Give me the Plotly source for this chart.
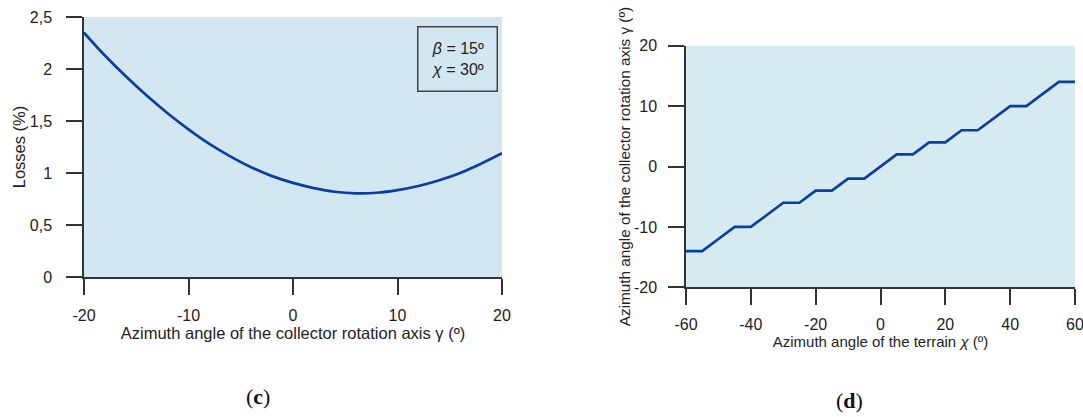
import plotly.graph_objects as go

# ---- data: panel (c) ----
gamma_c = [-20, -18, -16, -14, -12, -10, -8, -6, -4, -2, 0, 2, 4, 6, 8, 10, 12, 14, 16, 18, 20]
losses_c = [2.35, 2.13, 1.93, 1.745, 1.575, 1.42, 1.28, 1.16, 1.055, 0.97, 0.905,
            0.855, 0.82, 0.805, 0.81, 0.835, 0.875, 0.93, 1.00, 1.09, 1.19]
yticks_c = [0, 0.5, 1, 1.5, 2, 2.5]
yticktext_c = ["0", "0,5", "1", "1,5", "2", "2,5"]
xticks_c = [-20, -10, 0, 10, 20]
xticktext_c = ["-20", "-10", "0", "10", "20"]

# ---- data: panel (d) ----
chi_d = [-60, -55, -50, -45, -40, -35, -30, -25, -20, -15, -10, -5, 0,
         5, 10, 15, 20, 25, 30, 35, 40, 45, 50, 55, 60]
gamma_d = [-14, -14, -12, -10, -10, -8, -6, -6, -4, -4, -2, -2, 0,
           2, 2, 4, 4, 6, 6, 8, 10, 10, 12, 14, 14]
xticks_d = [-60, -40, -20, 0, 20, 40, 60]
xticktext_d = ["-60", "-40", "-20", "0", "20", "40", "60"]
yticks_d = [-20, -10, 0, 10, 20]
yticktext_d = ["-20", "-10", "0", "10", "20"]

LINE = "#0a3f9f"
AX = "#333333"
FONT = "Liberation Sans, Arial, sans-serif"

fig = go.Figure()
fig.add_trace(go.Scatter(x=gamma_c, y=losses_c, mode="lines", line=dict(color=LINE, width=2.7, shape="spline"),
                         xaxis="x", yaxis="y", showlegend=False))
fig.add_trace(go.Scatter(x=chi_d, y=gamma_d, mode="lines", line=dict(color=LINE, width=2.7),
                         xaxis="x2", yaxis="y2", showlegend=False))

W, H = 1083, 417

def xd(a, b):
    return [a / W, b / W]

def yd(top, bot):
    return [1 - bot / H, 1 - top / H]

axcommon = dict(showline=True, linecolor=AX, linewidth=1.5, ticks="outside", ticklen=16,
                tickcolor=AX, tickwidth=1.5, showgrid=False, zeroline=False, automargin=False,
                ticklabeloverflow="allow",
                tickfont=dict(family=FONT, size=16, color="#222"))

fig.update_layout(
    width=W, height=H,
    margin=dict(l=0, r=0, t=0, b=0),
    paper_bgcolor="white",
    plot_bgcolor="white",
    font=dict(family=FONT, color="#222"),
    xaxis=dict(domain=xd(84, 502), range=[-20, 20], tickvals=xticks_c, ticktext=xticktext_c, anchor="y",
               title=dict(text="Azimuth angle of the collector rotation axis γ (º)", font=dict(size=16.5), standoff=2),
               ticklabelstandoff=7, **axcommon),
    yaxis=dict(domain=yd(17, 277), range=[0, 2.5], tickvals=yticks_c, ticktext=yticktext_c, anchor="x",
               title=dict(text="Losses (%)", font=dict(size=16.5), standoff=0),
               ticklabelstandoff=11, **axcommon),
    xaxis2=dict(domain=xd(686, 1075), range=[-60, 60], tickvals=xticks_d, ticktext=xticktext_d, anchor="y2",
                title=dict(text="Azimuth angle of the terrain <i>χ</i> (º)", font=dict(size=15), standoff=0),
                ticklabelstandoff=6, **axcommon),
    yaxis2=dict(domain=yd(45.7, 287.3), range=[-20, 20], tickvals=yticks_d, ticktext=yticktext_d, anchor="x2",
                title=dict(text="Azimuth angle of the collector rotation axis γ (º)", font=dict(size=15.3), standoff=0),
                ticklabelstandoff=8, **axcommon),
    shapes=[
        dict(type="rect", xref="x domain", yref="y domain", x0=0, x1=1, y0=0, y1=1,
             fillcolor="#d3e7f2", line=dict(width=0), layer="below"),
        dict(type="rect", xref="x2 domain", yref="y2 domain", x0=0, x1=1, y0=0, y1=1,
             fillcolor="#d5ebf1", line=dict(width=0), layer="below"),
    ],
    annotations=[
        dict(text="<i>β</i> = 15º<br><i>χ</i> = 30º", xref="paper", yref="paper",
             x=457 / W, y=1 - 59 / H, xanchor="center", yanchor="middle",
             showarrow=False, font=dict(family=FONT, size=16, color="#222"),
             bordercolor="#444", borderwidth=1.5, borderpad=8, bgcolor="#d3e7f2",
             width=62, height=47, align="center"),
        dict(text="(<b>c</b>)", xref="paper", yref="paper", x=258 / W, y=1 - 396 / H,
             xanchor="center", yanchor="middle",
             showarrow=False, font=dict(family="Liberation Serif, serif", size=22, color="#111")),
        dict(text="(<b>d</b>)", xref="paper", yref="paper", x=849 / W, y=1 - 400 / H,
             xanchor="center", yanchor="middle",
             showarrow=False, font=dict(family="Liberation Serif, serif", size=22, color="#111")),
    ],
)

fig.write_html("out.html", config={"displayModeBar": False},
               post_script="document.body.style.margin='0';")
